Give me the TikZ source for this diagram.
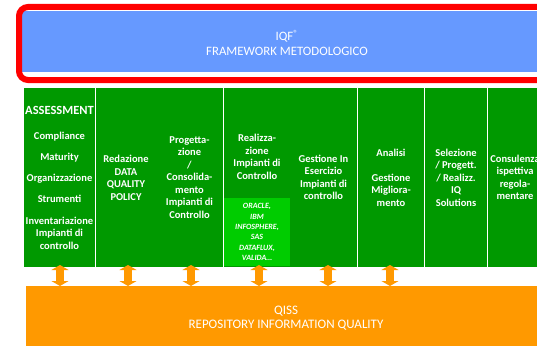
\documentclass[tikz,border=0pt]{standalone}
\usepackage{fontspec}
\setmainfont{Carlito}
\usetikzlibrary{arrows.meta}
\definecolor{frameblue}{RGB}{102,153,255}
\definecolor{framered}{RGB}{255,0,0}
\definecolor{colgreen}{RGB}{0,153,0}
\definecolor{litegreen}{RGB}{0,204,0}
\definecolor{qissorange}{RGB}{255,153,0}
\begin{document}
\begin{tikzpicture}[x=1pt,y=-1pt,
  colbox/.style={fill=colgreen, draw=none, inner sep=0pt, outer sep=0pt,
    minimum height=179pt, anchor=north west},
  coltext/.style={text=white, align=center, inner sep=0pt,
    font=\fontsize{10.5}{12.5}\selectfont\bfseries},
  bigtext/.style={text=white, align=center, inner sep=0pt,
    font=\fontsize{13}{15.5}\selectfont},
  dblarrow/.style={draw=qissorange, line width=8pt,
    {Triangle[width=17pt,length=5pt]}-{Triangle[width=17pt,length=5pt]},
    shorten <=-2pt}
]
\useasboundingbox (0,0) rectangle (537,345);

% top framework
\node[fill=frameblue, inner sep=0pt, outer sep=0pt, anchor=north west,
  minimum width=539pt, minimum height=61pt] (iqf) at (17,11) {};
\node[draw=framered, line width=6pt, rounded corners=9pt, inner sep=0pt,
  outer sep=0pt, anchor=north west, minimum width=541pt, minimum height=73pt]
  (frame) at (19,7) {};
\node[bigtext, font=\fontsize{12.8}{15.5}\selectfont] (iqftext) at (287,43)
  {IQF\textsuperscript{®}\\FRAMEWORK METODOLOGICO};

% green columns
\node[colbox, minimum width=71pt] (c1) at (24,88) {};
\node[colbox, minimum width=60pt] (c2) at (96,88) {};
\node[colbox, minimum width=67pt] (c3) at (156,88) {};
\node[colbox, minimum width=66pt] (c4) at (224,88) {};
\node[colbox, minimum width=67pt] (c5) at (290,88) {};
\node[colbox, minimum width=66pt] (c6) at (358,88) {};
\node[colbox, minimum width=62pt] (c7) at (425,88) {};
\node[colbox, minimum width=54pt] (c8) at (488,88) {};
\node[fill=litegreen, inner sep=0pt, outer sep=0pt, anchor=north west,
  minimum width=66pt, minimum height=68pt] (tools) at (224,198) {};

% column texts
\node[coltext] (t1) at (59.5,178)
  {{\fontsize{12.5}{14}\selectfont ASSESSMENT}\\[12.5pt]Compliance\\[8.5pt]Maturity\\[8.5pt]Organizzazione\\[8.5pt]Strumenti\\[9pt]Inventariazione\\Impianti di\\controllo};
\node[coltext] (t2) at (126,178) {Redazione\\DATA\\QUALITY\\POLICY};
\node[coltext] (t3) at (189.5,177.5)
  {Progetta-\\zione\\/\\Consolida-\\mento\\Impianti di\\Controllo};
\node[coltext] (t4) at (257,157) {Realizza-\\zione\\Impianti di\\Controllo};
\node[text=white, align=center, inner sep=0pt,
  font=\fontsize{8}{10.3}\selectfont\bfseries\itshape] (t4b) at (257,232)
  {ORACLE,\\IBM\\INFOSPHERE,\\SAS\\DATAFLUX,\\VALIDA…};
\node[coltext] (t5) at (323.5,177.5) {Gestione In\\Esercizio\\Impianti di\\controllo};
\node[coltext] (t6) at (391,177.5) {Analisi\\[12.5pt]Gestione\\Migliora-\\mento};
\node[coltext] (t7) at (456,177.5) {Selezione\\/ Progett.\\/ Realizz.\\IQ\\Solutions};
\node[coltext] (t8) at (515,177.5) {Consulenza\\ispettiva\\regola-\\mentare};

% repository
\node[fill=qissorange, inner sep=0pt, outer sep=0pt, anchor=north west,
  minimum width=520pt, minimum height=64pt] (qiss) at (26,286) {};
\node[bigtext] (qisstext) at (286,318)
  {QISS\\[-1.5pt]REPOSITORY INFORMATION QUALITY};

% double arrows
\draw[dblarrow] ([xshift=0.5pt]c1.south) -- ([xshift=0.5pt]c1.south |- qiss.north);
\draw[dblarrow] ([xshift=2pt]c2.south) -- ([xshift=2pt]c2.south |- qiss.north);
\draw[dblarrow] ([xshift=1.5pt]c3.south) -- ([xshift=1.5pt]c3.south |- qiss.north);
\draw[dblarrow] ([xshift=2pt]c4.south) -- ([xshift=2pt]c4.south |- qiss.north);
\draw[dblarrow] ([xshift=4.5pt]c5.south) -- ([xshift=4.5pt]c5.south |- qiss.north);
\draw[dblarrow] ([xshift=-1pt]c6.south) -- ([xshift=-1pt]c6.south |- qiss.north);
\end{tikzpicture}
\end{document}
